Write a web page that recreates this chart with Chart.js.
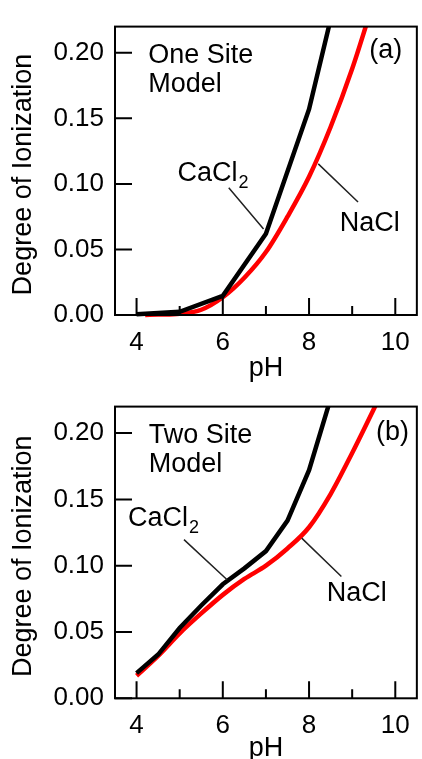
<!DOCTYPE html>
<html><head><meta charset="utf-8">
<script src="https://cdn.jsdelivr.net/npm/chart.js@4.4.1/dist/chart.umd.min.js"></script>
<style>
html,body{margin:0;padding:0;background:#fff;width:422px;height:759px;overflow:hidden;position:relative;}
.wrap{position:absolute;left:0;width:422px;height:390px;}
canvas{display:block}
</style></head><body>
<div class="wrap" style="top:0"><canvas id="cA" width="422" height="390"></canvas></div>
<div class="wrap" style="top:380px"><canvas id="cB" width="422" height="390"></canvas></div>
<script>
// ---- data ----
const xTickValues = [4, 5, 6, 7, 8, 9, 10];
const xTickLabels = ['4', '', '6', '', '8', '', '10'];
const yTickValues = [0, 0.05, 0.10, 0.15, 0.20];
const yTickLabels = ['0.00', '0.05', '0.10', '0.15', '0.20'];

// (a) One Site Model
const oneSiteCaCl2pH = [4, 5, 6, 7, 8, 9];
const oneSiteCaCl2 = [0.0005, 0.0024, 0.0146, 0.062, 0.157, 0.294];
const oneSiteNaClpH = [4.2, 4.5, 5, 5.5, 6, 6.5, 7, 7.5, 8, 8.5, 9, 9.5];
const oneSiteNaCl = [0.0, 0.0003, 0.001, 0.004, 0.0135, 0.0284, 0.048, 0.075, 0.1054, 0.1434, 0.1878, 0.2395];

// (b) Two Site Model
const twoSiteCaCl2pH = [4, 4.5, 5, 5.5, 6, 6.5, 7, 7.5, 8, 8.5];
const twoSiteCaCl2 = [0.019, 0.033, 0.053, 0.070, 0.086, 0.098, 0.111, 0.134, 0.172, 0.226];
const twoSiteNaClpH = [4, 4.5, 5, 5.5, 6, 6.5, 7, 7.5, 8, 8.5, 9, 9.5, 10];
const twoSiteNaCl = [0.017, 0.032, 0.049, 0.064, 0.078, 0.090, 0.100, 0.113, 0.129, 0.154, 0.185, 0.218, 0.252];

const FAM = '"Liberation Sans", Arial, Helvetica, sans-serif';
const pts = (xs, ys) => xs.map((x, i) => ({x, y: ys[i]}));

const frameTicks = {
  id: 'frameTicks',
  afterDatasetsDraw(chart) {
    const {ctx, chartArea: a, scales: {x, y}} = chart;
    ctx.save();
    ctx.strokeStyle = '#000';
    ctx.lineWidth = 2;
    ctx.beginPath();
    x.ticks.forEach(t => {
      const px = x.getPixelForValue(t.value);
      const len = t.label ? 17 : 9;
      ctx.moveTo(px, a.bottom); ctx.lineTo(px, a.bottom - len);
    });
    y.ticks.forEach(t => {
      const py = y.getPixelForValue(t.value);
      ctx.moveTo(a.left, py); ctx.lineTo(a.left + 17, py);
    });
    ctx.stroke();
    ctx.strokeRect(a.left, a.top, a.right - a.left, a.bottom - a.top);
    ctx.restore();
  }
};

const notes = {
  id: 'notes',
  afterDatasetsDraw(chart, args, o) {
    const {ctx, scales: {x, y}} = chart;
    const X = v => x.getPixelForValue(v), Y = v => y.getPixelForValue(v);
    ctx.save();
    ctx.fillStyle = '#000';
    ctx.textBaseline = 'alphabetic';
    ctx.font = '27px ' + FAM;
    ctx.textAlign = 'left';
    ctx.fillText(o.model[0], X(o.modelPos[0]), Y(o.modelPos[1]));
    ctx.fillText(o.model[1], X(o.modelPos[0]), Y(o.modelPos[2]));
    ctx.textAlign = 'right';
    ctx.fillText(o.tag, X(o.tagPos[0]), Y(o.tagPos[1]));
    ctx.textAlign = 'left';
    // CaCl2 with subscript
    const cx = X(o.caPos[0]), cy = Y(o.caPos[1]);
    ctx.fillText('CaCl', cx, cy);
    const w = ctx.measureText('CaCl').width;
    ctx.font = '18px ' + FAM;
    ctx.fillText('2', cx + w + 1, cy + 7);
    ctx.font = '27px ' + FAM;
    ctx.fillText('NaCl', X(o.naPos[0]), Y(o.naPos[1]));
    // leader lines
    ctx.strokeStyle = '#222';
    ctx.lineWidth = 1.5;
    ctx.beginPath();
    ctx.moveTo(X(o.caLine[0]), Y(o.caLine[1])); ctx.lineTo(X(o.caLine[2]), Y(o.caLine[3]));
    ctx.moveTo(X(o.naLine[0]), Y(o.naLine[1])); ctx.lineTo(X(o.naLine[2]), Y(o.naLine[3]));
    ctx.stroke();
    ctx.restore();
  }
};

function makeChart(id, caX, caY, naX, naY, topPad, xHeight, noteOpts) {
  return new Chart(document.getElementById(id), {
    type: 'scatter',
    data: {
      datasets: [
        {label: 'CaCl2', data: pts(caX, caY), showLine: true, borderColor: '#000', backgroundColor: '#000',
         borderWidth: 4.5, pointRadius: 0, tension: 0, clip: {left: 0, top: 0, right: 0, bottom: 5}},
        {label: 'NaCl', data: pts(naX, naY), showLine: true, borderColor: '#ff0000', backgroundColor: '#ff0000',
         borderWidth: 4.5, pointRadius: 0, cubicInterpolationMode: 'monotone', clip: {left: 0, top: 0, right: 0, bottom: 5}}
      ]
    },
    options: {
      responsive: false,
      animation: false,
      events: [],
      layout: {padding: {left: 0, right: 3.5, top: topPad, bottom: 0}},
      plugins: {legend: {display: false}, tooltip: {enabled: false}, notes: noteOpts},
      scales: {
        x: {
          type: 'linear', min: 3.5, max: 10.5,
          afterBuildTicks: s => { s.ticks = xTickValues.map(v => ({value: v})); },
          afterFit: s => { s.height = xHeight; },
          grid: {display: false, drawTicks: false},
          border: {display: false},
          ticks: {callback: (v, i) => xTickLabels[i], color: '#000', font: {size: 26, family: FAM}, padding: 12, maxRotation: 0, autoSkip: false},
          title: {display: true, text: 'pH', color: '#000', font: {size: 27, family: FAM, lineHeight: 1.2}, padding: {top: 0, bottom: 5}}
        },
        y: {
          type: 'linear', min: 0, max: 0.22,
          afterBuildTicks: s => { s.ticks = yTickValues.map(v => ({value: v})); },
          afterFit: s => { s.width = 115; },
          grid: {display: false, drawTicks: false},
          border: {display: false},
          ticks: {callback: (v, i) => yTickLabels[i], color: '#000', font: {size: 26, family: FAM}, padding: 11, autoSkip: false},
          title: {display: true, text: 'Degree of Ionization\u00a0', color: '#000', font: {size: 27, family: FAM, lineHeight: 1.2}, padding: {top: 7, bottom: 0}}
        }
      }
    },
    plugins: [frameTicks, notes]
  });
}

makeChart('cA', oneSiteCaCl2pH, oneSiteCaCl2, oneSiteNaClpH, oneSiteNaCl, 13, 75, {
  model: ['One Site', 'Model'], modelPos: [4.27, 0.1923, 0.170],
  tag: '(a)', tagPos: [10.16, 0.1958],
  caPos: [4.95, 0.102], caLine: [6.138, 0.0971, 6.945, 0.0656],
  naPos: [8.71, 0.0643], naLine: [8.214, 0.1153, 9.136, 0.0862]
});
makeChart('cB', twoSiteCaCl2pH, twoSiteCaCl2, twoSiteNaClpH, twoSiteNaCl, 15, 71.7, {
  model: ['Two Site', 'Model'], modelPos: [4.28, 0.1922, 0.1705],
  tag: '(b)', tagPos: [10.32, 0.195],
  caPos: [3.80, 0.1298], caLine: [5.10, 0.1197, 6.10, 0.0894],
  naPos: [8.41, 0.0737], naLine: [7.83, 0.1208, 8.75, 0.0918]
});
</script>
</body></html>
